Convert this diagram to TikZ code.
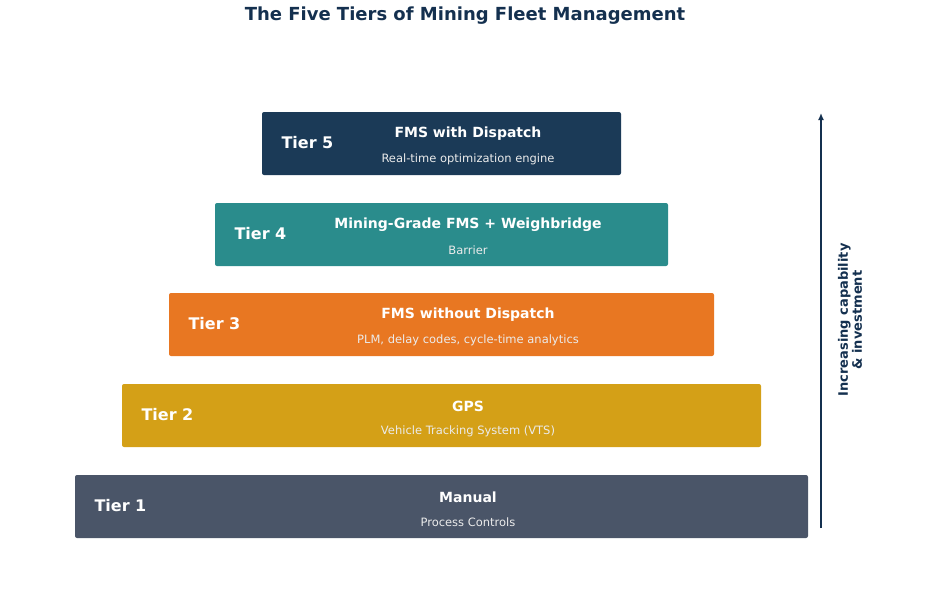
\documentclass[tikz,border=0pt]{standalone}
\usepackage{fontspec}
\usetikzlibrary{arrows.meta}
\setmainfont{DejaVu Sans}
\begin{document}
\begin{tikzpicture}[x=1pt,y=-1pt,
  tier/.style={rounded corners=2pt},
  lab/.style={anchor=west,text=white,font=\bfseries\fontsize{16}{18}\selectfont},
  main/.style={text=white,font=\bfseries\fontsize{14}{16}\selectfont},
  sub/.style={text=white!92!black,font=\fontsize{11.5}{13}\selectfont}]
\definecolor{navy}{HTML}{1B3A57}
\definecolor{teal}{HTML}{2A8C8C}
\definecolor{orng}{HTML}{E87722}
\definecolor{gold}{HTML}{D4A017}
\definecolor{slate}{HTML}{4A5568}
\definecolor{ttl}{HTML}{14304F}
\useasboundingbox (0,0) rectangle (930,592);
\node[text=ttl,font=\bfseries\fontsize{18}{20}\selectfont] (title) at (465,16) {The Five Tiers of Mining Fleet Management};
\foreach \l/\r/\t/\c/\n/\m/\s in {
 262/621/112/navy/5/FMS with Dispatch/Real-time optimization engine,
 215/668/203/teal/4/Mining-Grade FMS + Weighbridge/Barrier/{Trip validation, RFID, ANPR, boom barriers},
 169/714/293/orng/3/FMS without Dispatch/{PLM, delay codes, cycle-time analytics},
 122/761/384/gold/2/GPS / Vehicle Tracking System (VTS)/{Location, geofence, route deviation},
 75/808/475/slate/1/Manual / Process Controls/{Radios, paper logs, supervisor judgment}}{
 \fill[tier,\c] (\l,\t) rectangle (\r,\t+63);
 \node[lab] (t\n) at (\l+16,\t+31) {Tier \n};
 \node[main] (m\n) at (468,\t+22) {\m};
 \node[sub] (s\n) at (468,\t+47) {\s};
}
\coordinate (a0) at (821,528);
\coordinate (a1) at (821,113);
\draw[ttl,line width=2pt,-{Latex[length=7pt,width=6pt]}] (a0) -- (a1);
\node[rotate=90,text=ttl,align=center,font=\bfseries\fontsize{13}{14}\selectfont] (ax) at (850,320) {Increasing capability\\\& investment};
\end{tikzpicture}
\end{document}
